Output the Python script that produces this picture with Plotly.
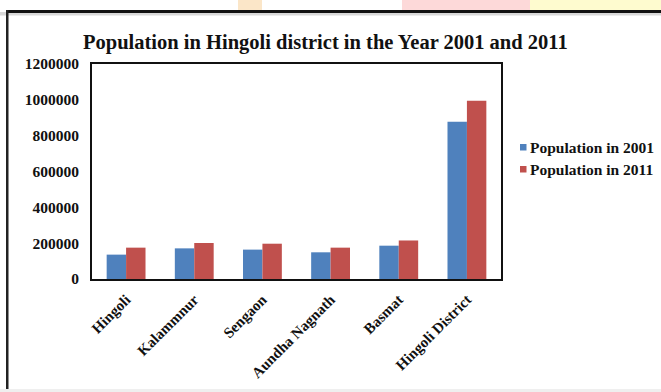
import plotly.graph_objects as go

# Census figures by taluka
talukas = ["Hingoli", "Kalammnur", "Sengaon", "Aundha Nagnath", "Basmat", "Hingoli District"]
pop_2001 = [136000, 171000, 164000, 149000, 186000, 877000]
pop_2011 = [175000, 201000, 197000, 175000, 215000, 995000]
series_names = ["Population in 2001", "Population in 2011"]
y_ticks = [0, 200000, 400000, 600000, 800000, 1000000, 1200000]

BLUE = "#4F81BD"
RED = "#C0504D"
FONT = "Liberation Serif"
INK = "#111111"

W, H = 661, 392
ML, MR, MT, MB = 92, 160, 64, 113
PW, PH = W - ML - MR, H - MT - MB


def px(x):
    return (x - ML) / PW


def py(y):
    return (H - MB - y) / PH


fig = go.Figure()
fig.add_trace(go.Bar(x=talukas, y=pop_2001, name=series_names[0],
                     marker=dict(color=BLUE, line=dict(width=0)), showlegend=False))
fig.add_trace(go.Bar(x=talukas, y=pop_2011, name=series_names[1],
                     marker=dict(color=RED, line=dict(width=0)), showlegend=False))

shapes = []
# coloured strip along the top edge
for x0, x1, col in [(238, 262, "#fbe6c8"), (402, 530, "#fdd9d9"), (530, 661, "#fefbcf")]:
    shapes.append(dict(type="rect", xref="paper", yref="paper",
                       x0=px(x0), x1=px(x1), y0=py(10), y1=py(0),
                       fillcolor=col, line=dict(width=0)))
# frame: top rule with a soft shadow, left rule, bottom band
shapes.append(dict(type="rect", xref="paper", yref="paper", x0=px(0), x1=px(661),
                   y0=py(15.5), y1=py(12), fillcolor="#d8d8d8", line=dict(width=0)))
shapes.append(dict(type="rect", xref="paper", yref="paper", x0=px(6), x1=px(661),
                   y0=py(13), y1=py(10), fillcolor=INK, line=dict(width=0)))
shapes.append(dict(type="rect", xref="paper", yref="paper", x0=px(6), x1=px(8.5),
                   y0=py(389), y1=py(10), fillcolor="#222222", line=dict(width=0)))
shapes.append(dict(type="rect", xref="paper", yref="paper", x0=px(0), x1=px(661),
                   y0=py(392), y1=py(389), fillcolor="#efefef", line=dict(width=0)))

annotations = [
    dict(text="Population in Hingoli district in the Year 2001 and 2011",
         xref="paper", yref="paper", x=px(325), y=py(43), xanchor="center", yanchor="middle",
         showarrow=False, font=dict(family=FONT, size=20.5, color=INK, weight="bold")),
]
# legend entries
for name, col, ycen in [(series_names[0], BLUE, 147), (series_names[1], RED, 169)]:
    shapes.append(dict(type="rect", xref="paper", yref="paper", x0=px(520), x1=px(526.5),
                       y0=py(ycen + 3.5), y1=py(ycen - 3), fillcolor=col, line=dict(width=0)))
    annotations.append(dict(text=name, xref="paper", yref="paper", x=px(527.5), y=py(ycen),
                            xanchor="left", yanchor="middle", showarrow=False,
                            font=dict(family=FONT, size=15.5, color=INK, weight="bold")))

fig.update_layout(
    width=W, height=H,
    margin=dict(l=ML, r=MR, t=MT, b=MB, autoexpand=False),
    paper_bgcolor="white", plot_bgcolor="white",
    barmode="group", bargap=0.43, bargroupgap=0,
    shapes=shapes, annotations=annotations,
    xaxis=dict(showline=True, linecolor=INK, linewidth=2, mirror=True,
               ticks="", tickangle=-45, ticklabelstandoff=4,
               tickfont=dict(family=FONT, size=15, color=INK, weight="bold")),
    yaxis=dict(range=[0, 1200000], tickvals=y_ticks, tickformat="d",
               showgrid=False, zeroline=False,
               showline=True, linecolor=INK, linewidth=2, mirror=True,
               ticks="outside", ticklen=8, tickcolor="rgba(0,0,0,0)",
               tickfont=dict(family=FONT, size=15.5, color=INK, weight="bold")),
)

fig.write_html("out.html")
